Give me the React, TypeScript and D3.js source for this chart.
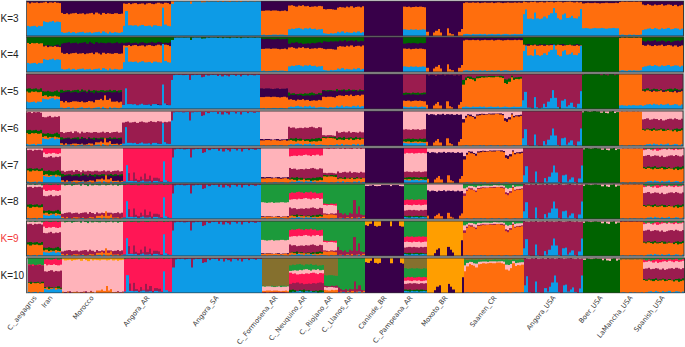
import React from "react";
import * as d3 from "d3";

type Layer = [string, number, string?, number?];

const palette: Record<string, string> = {
  B: "#0a9be6", O: "#ff6e0e", P: "#38004a", G: "#006400", M: "#9b1b4f",
  K: "#ffb3ba", R: "#ff1654", T: "#1f9a3a", A: "#ff9e00", L: "#85702f",
};

const popNames = ["C._aegagrus", "Iran", "Morocco", "Angora_AR", "Angora_SA", "C._Formosena_AR", "C._Neuquino_AR", "C._Riojano_AR", "C._Llanos_AR", "Caninde_BR", "C._Pampeana_AR", "Moxoto_BR", "Saanen_CR", "Angora_USA", "Boer_USA", "LaMancha_USA", "Spanish_USA"];
const popSizes = [7, 8, 27, 21, 39, 12, 15, 6, 12, 17, 10, 16, 26, 26, 16, 10, 18];
const labelEnds = [37, 53, 94, 150, 219, 278, 307, 333, 353, 387, 413, 448, 497, 556, 603, 633, 665];
const kLabels = ["K=3", "K=4", "K=5", "K=6", "K=7", "K=8", "K=9", "K=10"];
const panelTops = [1, 37, 74, 111, 148, 184, 221, 258];
const panelShift = [0.5, 0.5, 0, 0, 1, 1, 1, 1.5];

const wiggles: number[][] = [
  [1, -1, 0, 1, -2, 1, 0],
  [2, 0, -1, 1, 3, -1, 1, 0],
  [1, -1, 0, 2, -1, 1, -2, 0, 1, 2, -1, 0, 1, -2, 0, 1, 2, -2, 3, 0, -3, 2, -1, 1, 0, -1, 1],
  [3, 2, -1, 1, 0, 2, -1, 1, 2, -1, 0, 1, -2, 1, 2, 0, -1, 1, 3, 1, 0],
  [0],
  [0, 1, -1, 0, 0, 1, 1, 0, 1, 1, 0, -1],
  [-1, 1, 0, 2, 3, 1, -1, 2, 1, 3, 0, 1, -2, -1, 0],
  [1, 0, -1, 1, 0, 1],
  [2, 0, 3, -1, 1, 0, -1, 2, 0, 3, -1, 1],
  [0],
  [1, 0, -1, 1, 0, 1, -1, 0, 1, 0],
  [1, -1, 0, 2, -1, 1, 0, -2, 1, 0, 2, -1, 1, 0, 1, -1],
  [0, 1, 0, -1, 1, 0, 0, 1, 0, 1, -1, 0, 1, 0, 0, 1, -1, 0, 1, 0, -1, 0, 1, 0, 0, 1],
  [1, -1, 0, 2, 0, -1, 1, 0, 2, -1, 0, 1, -1, 2, 0, 1, -1, 0, 2, 1, -1, 0, 1, 2, 0, -1],
  [0, 1, 0, -1, 0, 1, 0, 0, 1, 0, -1, 0, 0, 1, 0, 0],
  [0, 1, 0, -1, 1, 0, 1, 0, 0, 1],
  [-3, -1, 1, 2, 0, 3, 1, -1, 2, 0, 1, 3, -1, 0, 2, 1, -2, 1],
];

const profiles: Record<string, number[]> = {
  arBlue: [0, 48, 6, 4, 4, 3, 3, 3, 4, 4, 3, 3, 3, 4, 3, 3, 3, 60, 4, 2, 2],
  arMaroon: [0, 3, 22, 4, 25, 6, 5, 14, 5, 25, 6, 15, 3, 12, 10, 6, 0, 0, 0, 0, 0],
  usaBlue: [22, 48, 2, 0, 0, 33, 2, 0, 0, 14, 4, 18, 30, 50, 30, 3, 0, 22, 24, 4, 10, 16, 3, 0, 13, 50],
  mxO: [12, 0, 0, 10, 15, 20, 10, 0, 0, 22, 8, 5, 0, 0, 12, 20],
  mxP: [0, 0, 0, 8, 18, 22, 0, 0, 0, 26, 18, 10, 0, 0, 0, 45],
  morO: [1, 0, 2, 1, 0, 1, 0, 2, 0, 1, 1, 0, 2, 0, 1, 3, 6, 12, 3, 20, 5, 10, 2, 0, 1, 0, 1],
  llM: [18, 6, 4, 4, 3, 8, 4, 45, 3, 28, 3, 2],
  dipSA: [25, 2, 0, 1, 0, 2, 1, 0, 25, 2, 0, 1, 0, 12, 10, 0, 4, 0, 1, 0, 6, 0, 8, 1, 4, 8, 0, 1, 5, 0, 8, 1, 0, 4, 0, 1, 3, 0, 1],
  dipSaanen: [26, 14, 6, 9, 12, 16, 8, 5, 4, 6, 4, 3, 5, 3, 2, 3, 4, 5, 22, 26, 18, 4, 13, 9, 11, 8],
  canDip: [12, 14, 8, 0, 14, 16, 14, 0, 0, 0, 0, 15, 0, 0, 0, 14, 16],
  dipBoer: [4, 0, 0, 0, 0, 0, 0, 0, 7, 0, 5, 8, 0, 0, 7, 3],
};

const kPanel3: Layer[][] = [
  [["B", 28], ["O", 67], ["P", 5]],
  [["B", 40], ["O", 55], ["P", 5]],
  [["B", 10], ["O", 54], ["P", 36]],
  [["B", 26, "arBlue", 0.9], ["O", 66], ["P", 8]],
  [["B", 99.5, "dipSA", -0.3], ["O", 0.5]],
  [["B", 3], ["O", 69], ["P", 28]],
  [["B", 20], ["O", 65], ["P", 15]],
  [["B", 7], ["O", 69], ["P", 24]],
  [["B", 10], ["O", 72], ["P", 18]],
  [["P", 100]],
  [["B", 18], ["O", 65], ["P", 17]],
  [["O", 0, "mxO", 1], ["P", 100]],
  [["B", 5], ["O", 90], ["P", 5]],
  [["B", 48, "usaBlue", 0.6], ["O", 49], ["P", 3]],
  [["B", 22], ["O", 72], ["P", 6]],
  [["B", 3], ["O", 95], ["P", 2]],
  [["B", 20], ["O", 68], ["P", 12]],
];
const kPanel4: Layer[][] = [
  [["B", 25], ["O", 57], ["G", 18]],
  [["B", 35], ["O", 37], ["P", 3], ["G", 25]],
  [["B", 8], ["O", 45], ["P", 30], ["G", 17]],
  [["B", 25, "arBlue", 0.9], ["O", 50], ["P", 8], ["G", 17]],
  [["B", 99, "dipSA", -0.3], ["G", 1]],
  [["B", 3], ["O", 63], ["P", 28], ["G", 6]],
  [["B", 17], ["O", 51], ["P", 14], ["G", 18]],
  [["B", 5], ["O", 60], ["P", 22], ["G", 13]],
  [["B", 8], ["O", 65], ["P", 15], ["G", 12]],
  [["P", 100]],
  [["B", 15], ["O", 51], ["P", 16], ["G", 18]],
  [["O", 0, "mxO", 1], ["P", 100]],
  [["B", 4], ["O", 87], ["P", 7], ["G", 2]],
  [["B", 46, "usaBlue", 0.6], ["O", 30], ["P", 2], ["G", 22]],
  [["G", 100, "dipBoer", 0], ["P", 0]],
  [["B", 4], ["O", 94], ["G", 2]],
  [["B", 17], ["O", 58], ["P", 13], ["G", 12]],
];
const kPanel5: Layer[][] = [
  [["B", 20], ["O", 29], ["G", 9], ["M", 42]],
  [["B", 28], ["O", 8], ["G", 14], ["M", 50]],
  [["B", 3], ["O", 17, "morO", 1], ["P", 28], ["G", 5], ["M", 47]],
  [["B", 9, "arBlue", 1], ["P", 2], ["M", 89]],
  [["B", 98, "dipSA", -0.6], ["M", 2]],
  [["B", 2], ["O", 32], ["P", 24], ["M", 42]],
  [["B", 6], ["O", 19], ["P", 14], ["G", 5], ["M", 56]],
  [["B", 4], ["O", 30], ["P", 17], ["G", 2], ["M", 47]],
  [["B", 7], ["O", 31], ["P", 13], ["G", 3], ["M", 46]],
  [["P", 100]],
  [["B", 6], ["O", 17], ["P", 18], ["G", 5], ["M", 54]],
  [["O", 0, "mxO", 1], ["P", 97], ["M", 3]],
  [["B", 6], ["O", 88, "dipSaanen", -0.9], ["G", 2, "dipSaanen", -0.5], ["M", 4]],
  [["B", 2, "usaBlue", 1], ["G", 1], ["M", 97]],
  [["G", 100, "dipBoer", -0.5], ["M", 0]],
  [["B", 10], ["O", 90]],
  [["B", 12], ["O", 38], ["P", 2], ["G", 4], ["M", 44]],
];
const kPanel6: Layer[][] = [
  [["B", 5], ["O", 31], ["G", 9], ["M", 51], ["K", 4]],
  [["B", 20], ["O", 5], ["G", 10], ["M", 48], ["K", 17]],
  [["B", 2], ["O", 3, "morO", 0.9], ["P", 15], ["G", 3], ["M", 16], ["K", 61]],
  [["B", 4, "arBlue", 1], ["P", 1], ["M", 63], ["K", 32]],
  [["B", 98, "dipSA", -1], ["M", 1], ["K", 1]],
  [["B", 1], ["O", 15], ["P", 3], ["K", 81]],
  [["B", 4], ["O", 10], ["G", 6], ["M", 32], ["K", 48]],
  [["B", 2], ["O", 20], ["G", 3], ["M", 5], ["K", 70]],
  [["B", 3], ["O", 15], ["G", 5], ["M", 16], ["K", 61]],
  [["P", 100]],
  [["B", 8], ["O", 4], ["G", 8], ["M", 27], ["K", 53]],
  [["O", 0, "mxO", 1], ["P", 90], ["K", 10]],
  [["B", 1], ["O", 93, "dipSaanen", -1], ["P", 1, "dipSaanen", -0.7], ["K", 5]],
  [["B", 0, "usaBlue", 1], ["M", 100]],
  [["G", 99, "dipBoer", -0.7], ["K", 1]],
  [["B", 1], ["O", 97], ["K", 2]],
  [["B", 4], ["O", 40], ["G", 4], ["M", 28], ["K", 24]],
];
const kPanel7: Layer[][] = [
  [["B", 3], ["O", 32], ["G", 6], ["M", 53], ["K", 6]],
  [["B", 18], ["O", 4], ["G", 12], ["M", 40], ["K", 10], ["R", 16]],
  [["B", 2], ["O", 3, "morO", 0.9], ["P", 15], ["G", 4], ["M", 10], ["K", 66]],
  [["B", 1, "arBlue", 1], ["M", 3, "arMaroon", 1], ["R", 96]],
  [["B", 98, "dipSA", -1], ["M", 2]],
  [["B", 1], ["O", 12], ["P", 3], ["K", 84]],
  [["B", 3], ["O", 5], ["G", 6], ["M", 26], ["K", 38], ["R", 22]],
  [["B", 1], ["O", 17], ["G", 4], ["M", 6], ["K", 70], ["R", 2]],
  [["B", 2], ["O", 10], ["G", 2], ["M", 16], ["K", 68], ["R", 2]],
  [["P", 100]],
  [["B", 8], ["O", 2], ["G", 6], ["M", 16], ["K", 53], ["R", 15]],
  [["O", 0, "mxO", 1], ["P", 87], ["K", 13]],
  [["B", 1], ["O", 93, "dipSaanen", -1], ["P", 1, "dipSaanen", -0.7], ["K", 5]],
  [["B", 0, "usaBlue", 1], ["M", 100]],
  [["G", 99, "dipBoer", -0.7], ["K", 1]],
  [["B", 1], ["O", 97], ["K", 2]],
  [["B", 4], ["O", 36], ["G", 5], ["M", 32], ["K", 18], ["R", 3], ["T", 2]],
];
const kPanel8: Layer[][] = [
  [["B", 2], ["O", 32], ["G", 7], ["M", 50], ["K", 7], ["T", 2]],
  [["B", 10], ["O", 5], ["G", 8], ["M", 43], ["K", 15], ["R", 17], ["T", 2]],
  [["B", 1], ["O", 2, "morO", 1], ["M", 14], ["K", 80], ["T", 3]],
  [["B", 1, "arBlue", 1], ["M", 3, "arMaroon", 1], ["R", 94], ["T", 2]],
  [["B", 98, "dipSA", -1], ["M", 2]],
  [["B", 1], ["O", 5], ["P", 1], ["K", 40], ["T", 53]],
  [["B", 3], ["O", 4], ["G", 3], ["M", 20], ["K", 27], ["R", 18], ["T", 25]],
  [["B", 1], ["O", 11], ["M", 3], ["K", 24], ["R", 4], ["T", 57]],
  [["B", 1], ["O", 2], ["M", 6, "llM", 1], ["T", 91]],
  [["P", 97, "canDip", -0.2], ["K", 3]],
  [["B", 5], ["G", 3], ["M", 17], ["K", 15], ["R", 15], ["T", 45]],
  [["O", 0, "mxO", 0.8], ["P", 80], ["K", 20]],
  [["B", 1], ["O", 92, "dipSaanen", -1], ["M", 1, "dipSaanen", -0.8], ["K", 3, "dipSaanen", -0.4], ["T", 3]],
  [["B", 0, "usaBlue", 1], ["M", 98], ["K", 2]],
  [["G", 98, "dipBoer", -0.8], ["K", 2]],
  [["B", 1], ["O", 98], ["K", 1]],
  [["B", 3], ["O", 32], ["G", 4], ["M", 35], ["K", 18], ["R", 3], ["T", 5]],
];
const kPanel9: Layer[][] = [
  [["B", 2], ["O", 30], ["G", 7], ["M", 52], ["K", 7], ["T", 2]],
  [["B", 10], ["O", 5], ["G", 8], ["M", 43], ["K", 15], ["R", 17], ["T", 2]],
  [["B", 1], ["O", 2, "morO", 1], ["M", 12], ["K", 82], ["T", 3]],
  [["B", 1, "arBlue", 1], ["M", 3, "arMaroon", 1], ["R", 94], ["T", 2]],
  [["B", 98, "dipSA", -1], ["M", 2]],
  [["B", 1], ["O", 5], ["P", 1], ["K", 38], ["T", 55]],
  [["B", 3], ["O", 4], ["G", 3], ["M", 20], ["K", 27], ["R", 18], ["T", 25]],
  [["B", 1], ["O", 11], ["M", 3], ["K", 24], ["R", 4], ["T", 57]],
  [["B", 1], ["O", 2], ["M", 6, "llM", 1], ["T", 91]],
  [["P", 100, "canDip", -1], ["A", 0]],
  [["B", 5], ["G", 3], ["M", 17], ["K", 15], ["R", 15], ["T", 45]],
  [["P", 0, "mxP", 1], ["A", 100]],
  [["B", 1], ["O", 92, "dipSaanen", -1], ["M", 1, "dipSaanen", -0.8], ["K", 3, "dipSaanen", -0.4], ["T", 3]],
  [["B", 0, "usaBlue", 1], ["M", 98], ["K", 2]],
  [["G", 98, "dipBoer", -0.8], ["K", 2]],
  [["B", 1], ["O", 97], ["M", 2]],
  [["B", 3], ["O", 33], ["G", 4], ["M", 32], ["K", 20], ["R", 3], ["T", 5]],
];
const kPanel10: Layer[][] = [
  [["B", 2], ["O", 26], ["G", 3], ["M", 48], ["R", 2], ["T", 19]],
  [["B", 10], ["O", 3], ["G", 3], ["M", 46], ["K", 18], ["R", 16], ["T", 4]],
  [["B", 0], ["O", 1, "morO", 1], ["M", 2], ["K", 91], ["A", 6]],
  [["B", 1, "arBlue", 1], ["M", 2, "arMaroon", 1], ["R", 95], ["T", 2]],
  [["B", 98, "dipSA", -1], ["M", 2]],
  [["M", 2], ["O", 4], ["K", 12], ["T", 2], ["L", 80]],
  [["B", 3], ["G", 4], ["M", 20], ["R", 28], ["K", 10], ["T", 15], ["L", 20]],
  [["O", 8], ["K", 8], ["M", 4], ["T", 30], ["L", 50]],
  [["B", 1], ["O", 2], ["M", 3, "llM", 0.6], ["T", 94]],
  [["P", 100, "canDip", -1], ["A", 0]],
  [["B", 5], ["G", 4], ["M", 18], ["K", 8], ["R", 10], ["T", 25], ["L", 30]],
  [["P", 0, "mxP", 1], ["A", 100]],
  [["B", 1], ["O", 88, "dipSaanen", -1], ["K", 3, "dipSaanen", -0.5], ["T", 3], ["L", 5]],
  [["B", 0, "usaBlue", 1], ["M", 98], ["K", 2]],
  [["G", 98, "dipBoer", -0.8], ["K", 2]],
  [["B", 1], ["O", 94], ["L", 5]],
  [["B", 3], ["O", 32], ["G", 4], ["M", 30], ["K", 20], ["R", 6], ["T", 5]],
];
const panels = [kPanel3, kPanel4, kPanel5, kPanel6, kPanel7, kPanel8, kPanel9, kPanel10];

const panelHeight = 35;
const total = d3.sum(popSizes);
const popStarts = d3.cumsum([0, ...popSizes]);

function Panel({ layers, top, shift, idx }: { layers: Layer[][]; top: number; shift: number; idx: number }) {
  const x = d3.scaleLinear().domain([0, total]).range([26 + shift, 683 + shift]);
  const y = d3.scaleLinear().domain([0, 100]).range([top + panelHeight, top]);
  const rects: React.ReactNode[] = [];
  layers.forEach((pop, p) => {
    const wig = wiggles[p];
    d3.range(popSizes[p]).forEach((i) => {
      const tops: number[] = [];
      let cum = 0;
      pop.forEach((l, j) => {
        cum += l[1];
        const prof = l[2] ? profiles[l[2]][i] * (l[3] ?? 1) : 0;
        const w = wig[(i + j * 3) % wig.length];
        tops.push(j === pop.length - 1 ? 100 : Math.max(0, Math.min(100, cum + prof + (cum > 0 && cum < 100 ? w : 0))));
      });
      for (let j = pop.length - 2; j >= 0; j--) {
        const spiky = pop[j][2] && (pop[j][3] ?? 1) > 0;
        if (!spiky) tops[j] = Math.min(tops[j], tops[j + 1]);
      }
      const col = popStarts[p] + i;
      const x0 = Math.round(x(col));
      const x1 = Math.round(x(col + 1));
      // upper layers are painted first, so the lower layers sit on top of them
      for (let j = pop.length - 1; j >= 0; j--) {
        const yy = y(tops[j]);
        rects.push(
          <rect key={`${idx}-${p}-${i}-${j}`} x={x0} y={yy} width={x1 - x0} height={y(0) - yy} fill={palette[pop[j][0]]} />
        );
      }
    });
  });
  return (
    <g>
      {rects}
      {popStarts.slice(1, -1).map((s, i) => (
        <line key={i} x1={x(s)} x2={x(s)} y1={top} y2={top + panelHeight} stroke="#3a3a3a" strokeOpacity={0.5} strokeWidth={0.7} />
      ))}
      <rect x={26 + shift / 2} y={top} width={657 + shift / 2} height={panelHeight} fill="none" stroke="#333" strokeWidth={0.9} />
    </g>
  );
}

export default function App() {
  return (
    <svg width={685} height={347} style={{ position: "fixed", left: 0, top: 0, background: "#fff" }} fontFamily="DejaVu Sans">
      <defs>
        <filter id="soft" x="0" y="0" width="100%" height="100%">
          <feGaussianBlur stdDeviation="0.35" />
        </filter>
      </defs>
      <rect x={26} y={0} width={658.5} height={293.5} fill="#b8b8b8" />
      <g filter="url(#soft)">
        {panels.map((layers, i) => (
          <Panel key={i} layers={layers} top={panelTops[i]} shift={panelShift[i]} idx={i} />
        ))}
      </g>
      {kLabels.map((t, i) => (
        <text key={t} x={0.5} y={panelTops[i] + panelHeight / 2 + 3.5} fontSize={10} fontFamily="Liberation Sans" fill={t === "K=9" ? "#f23c3c" : "#222"}>
          {t}
        </text>
      ))}
      {popNames.map((n, i) => (
        <text key={n} transform={`translate(${labelEnds[i]},${298}) rotate(-51)`} textAnchor="end" fontSize={6.8} fill="#3c3c3c">
          {n}
        </text>
      ))}
    </svg>
  );
}
